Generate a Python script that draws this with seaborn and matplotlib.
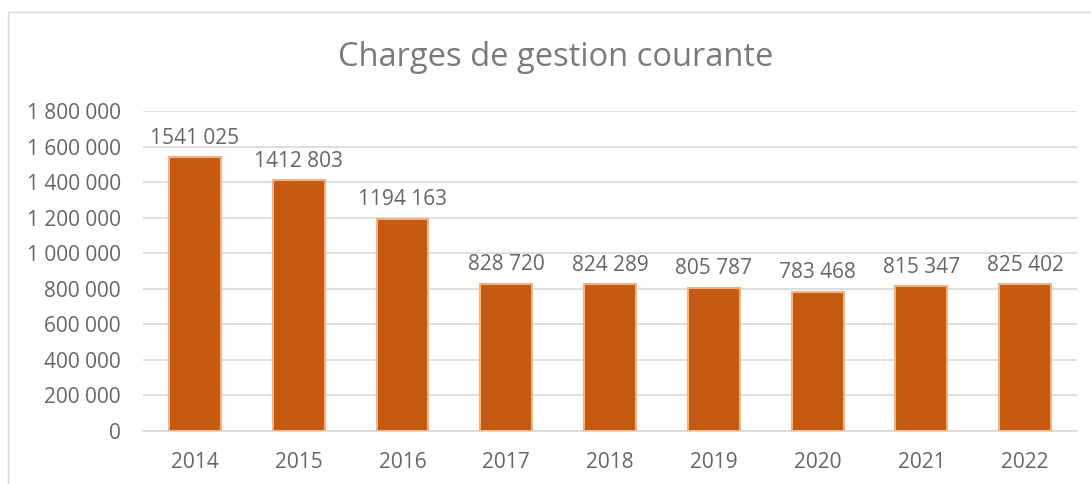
import matplotlib
matplotlib.use("Agg")
import matplotlib.pyplot as plt
import seaborn as sns
import pandas as pd
from matplotlib.ticker import FuncFormatter, MultipleLocator
from matplotlib.lines import Line2D

years = ["2014", "2015", "2016", "2017", "2018", "2019", "2020", "2021", "2022"]
values = [1541025, 1412803, 1194163, 828720, 824289, 805787, 783468, 815347, 825402]
title = "Charges de gestion courante"

sns.set_theme(style="white")
plt.rcParams['font.family'] = ['Open Sans', 'DejaVu Sans']

df = pd.DataFrame({"year": years, "value": values})

fig = plt.figure(figsize=(10.91, 4.84), dpi=100)
ax = fig.add_axes([143/1091, 1-431/484, (1077-143)/1091, (431-111)/484])

sns.barplot(data=df, x="year", y="value", ax=ax, color="#C55A11", width=0.5,
            edgecolor="#F4B183", linewidth=1.5, saturation=1, zorder=3)

ax.set_ylim(0, 1800000)
ax.yaxis.set_major_locator(MultipleLocator(200000))
ax.yaxis.set_major_formatter(FuncFormatter(lambda v, p: f"{int(v):,}".replace(",", " ")))
ax.grid(axis="y", color="#D9D9D9", linewidth=1.2, zorder=0)
for s in ["top", "right", "left"]:
    ax.spines[s].set_visible(False)
ax.spines["bottom"].set_color("#D9D9D9")
ax.spines["bottom"].set_linewidth(1.2)
ax.set_xlabel("")
ax.set_ylabel("")
ax.tick_params(axis="both", length=0, labelsize=15, colors="#666666")
ax.tick_params(axis="y", pad=16)
ax.tick_params(axis="x", pad=15)

def fmt(v):
    return f"{v // 1000} {v % 1000:03d}"

for i, v in enumerate(values):
    ax.annotate(fmt(v), (i, v), xytext=(0, 6), textcoords="offset points",
                ha="center", va="bottom", fontsize=15, color="#666666")

fig.text(0.509, 1-57/484, title, ha="center", va="center", fontsize=23.5, color="#7a7a7a")

fig.add_artist(Line2D([8/1091, 8/1091], [0, 1-12/484], transform=fig.transFigure, color="#D9D9D9", linewidth=1))
fig.add_artist(Line2D([8/1091, 1], [1-12/484, 1-12/484], transform=fig.transFigure, color="#D9D9D9", linewidth=1))

fig.savefig("out.png", dpi=100)
